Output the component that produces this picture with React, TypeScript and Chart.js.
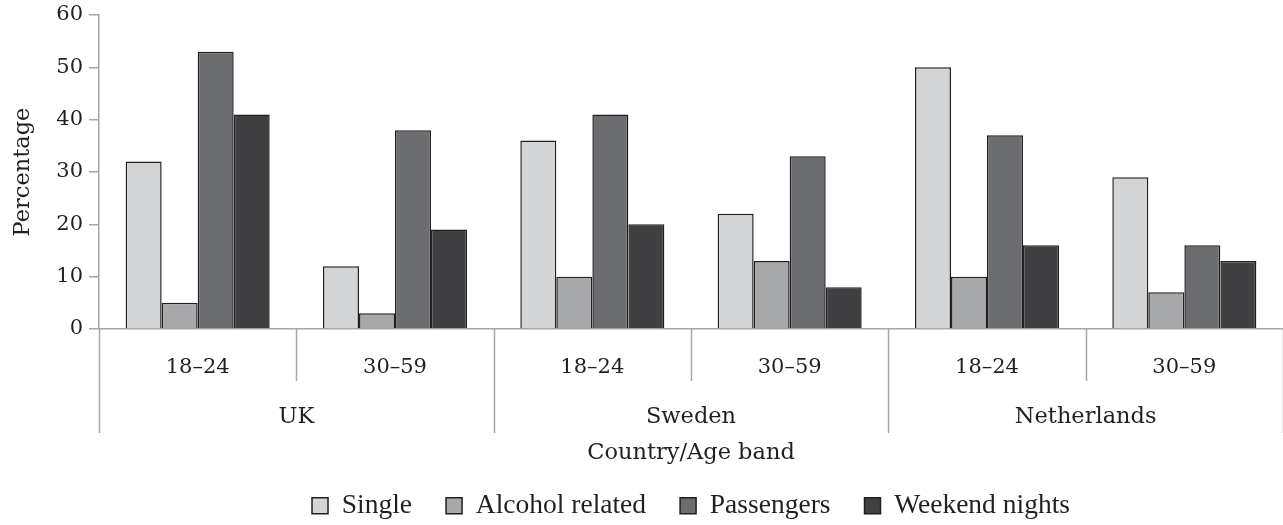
import React, { useEffect, useRef } from "react";
import { Chart, registerables } from "chart.js";

Chart.register(...registerables);

const ageBands = ["18–24", "30–59", "18–24", "30–59", "18–24", "30–59"];
const countries = ["UK", "Sweden", "Netherlands"];
const seriesNames = ["Single", "Alcohol related", "Passengers", "Weekend nights"];
const single = [32, 12, 36, 22, 50, 29];
const alcohol = [5, 3, 10, 13, 10, 7];
const passengers = [53, 38, 41, 33, 37, 16];
const weekend = [41, 19, 20, 8, 16, 13];
const seriesColors = ["#d3d4d6", "#a7a8aa", "#6c6d70", "#404042"];
const yTicks = [0, 10, 20, 30, 40, 50, 60];

const AXIS_GRAY = "#a6a6a6";
const TEXT = "#231f20";
const AXIS_FONT = "'DejaVu Serif', serif";
const LEGEND_FONT = "'Liberation Serif', serif";

const groupPlugin = {
  id: "groupPlugin",
  afterDraw(chart: any) {
    const { ctx, chartArea, scales } = chart;
    const x = scales.x;
    const n = ageBands.length;
    const catW = (chartArea.right - chartArea.left) / n;
    ctx.save();
    ctx.strokeStyle = AXIS_GRAY;
    ctx.lineWidth = 1.5;
    for (let i = 0; i <= n; i++) {
      const px = Math.round(chartArea.left + i * catW) + 0.5;
      const long = i % 2 === 0;
      ctx.beginPath();
      ctx.moveTo(px, chartArea.bottom);
      ctx.lineTo(px, chartArea.bottom + (long ? 104 : 52));
      ctx.stroke();
    }
    ctx.fillStyle = TEXT;
    ctx.font = `22.5px ${AXIS_FONT}`;
    ctx.textAlign = "center";
    ctx.textBaseline = "middle";
    countries.forEach((c, i) => {
      const cx = (x.getPixelForValue(i * 2) + x.getPixelForValue(i * 2 + 1)) / 2;
      ctx.fillText(c, cx, chartArea.bottom + 88);
    });
    ctx.restore();
  },
};

export default function App() {
  const ref = useRef<HTMLCanvasElement | null>(null);
  useEffect(() => {
    document.body.style.margin = "0";
    const values = [single, alcohol, passengers, weekend];
    const chart = new Chart(ref.current!, {
      type: "bar",
      data: {
        labels: ageBands,
        datasets: seriesNames.map((name, i) => ({
          label: name,
          data: values[i],
          backgroundColor: seriesColors[i],
          borderColor: TEXT,
          borderWidth: 1.5,
          borderSkipped: "bottom",
          categoryPercentage: 0.73,
          barPercentage: 1.0,
        })),
      },
      options: {
        animation: false,
        responsive: true,
        maintainAspectRatio: false,
        layout: { padding: { top: 15, left: 0, right: 0, bottom: -4.5 } },
        plugins: {
          tooltip: { enabled: false },
          legend: {
            position: "bottom",
            fullSize: false,
            labels: {
              boxWidth: 16,
              boxHeight: 16,
              padding: 34,
              color: TEXT,
              font: { family: LEGEND_FONT, size: 27.5 },
            },
          },
        },
        scales: {
          x: {
            grid: { display: false },
            border: { display: true, color: AXIS_GRAY, width: 1.5 },
            ticks: {
              color: TEXT,
              font: { family: AXIS_FONT, size: 21 },
              padding: 18,
              maxRotation: 0,
            },
            title: {
              display: true,
              text: "Country/Age band",
              color: TEXT,
              font: { family: AXIS_FONT, size: 22.5 },
              padding: { top: 0, bottom: -9 },
            },
            afterFit(scale: any) {
              scale.height = 129;
            },
          },
          y: {
            min: 0,
            max: 60,
            afterBuildTicks(scale: any) {
              scale.ticks = yTicks.map((v) => ({ value: v }));
            },
            grid: {
              drawOnChartArea: false,
              drawTicks: true,
              tickLength: 10,
              color: AXIS_GRAY,
              lineWidth: 1.5,
            },
            border: { display: true, color: AXIS_GRAY, width: 1.5 },
            ticks: {
              color: TEXT,
              font: { family: AXIS_FONT, size: 21 },
              padding: 6,
            },
            title: {
              display: true,
              text: "Percentage",
              color: TEXT,
              font: { family: AXIS_FONT, size: 22.5 },
              padding: { top: 10, bottom: 0 },
            },
            afterFit(scale: any) {
              scale.width = 99;
              scale.paddingTop = 0;
              scale.paddingBottom = 0;
            },
          },
        },
      },
      plugins: [groupPlugin],
    });
    return () => chart.destroy();
  }, []);
  return (
    <div style={{ position: "fixed", left: 0, top: 0, width: 1283, height: 525 }}>
      <canvas ref={ref} />
    </div>
  );
}
